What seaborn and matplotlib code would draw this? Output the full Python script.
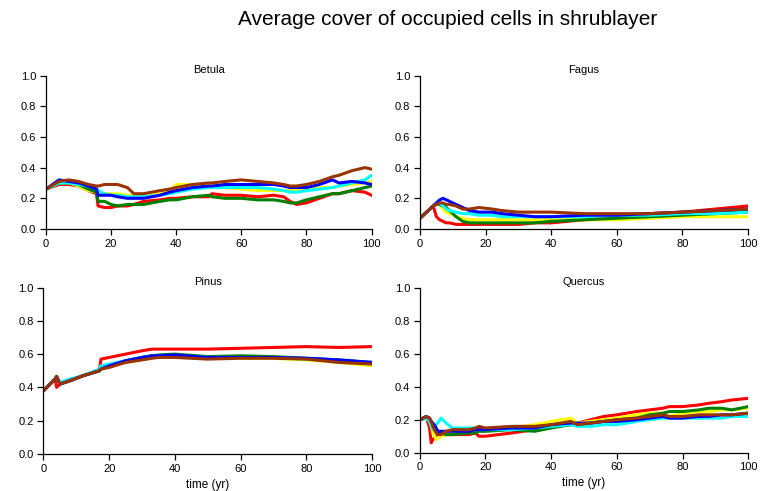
import numpy as np
import pandas as pd
import matplotlib
matplotlib.use("Agg")
import matplotlib.pyplot as plt
import seaborn as sns

sns.set_theme(style="white")
plt.rcParams['font.family'] = ['Liberation Sans', 'DejaVu Sans']
plt.rcParams['text.color'] = 'black'

TITLE = "Average cover of occupied cells in shrublayer"
SERIES = ["red", "yellow", "green", "cyan", "blue", "brown"]
COLORS = {"red": "#FF0000", "yellow": "#FFFF00", "green": "#008000",
          "cyan": "#00FFFF", "blue": "#0000FF", "brown": "#993300"}
X_TICKS = [0, 20, 40, 60, 80, 100]
Y_TICKS = [0.0, 0.2, 0.4, 0.6, 0.8, 1.0]

# ---- Betula ----
betula_t = [0, 4, 7, 10, 13, 15.5, 16, 18, 20, 22, 25, 27, 30, 35, 38, 40, 45, 50, 51, 55,
            60, 65, 70, 73, 75, 77, 80, 84, 88, 90, 94, 98, 100]
betula_brown = [0.26, 0.31, 0.32, 0.31, 0.29, 0.28, 0.28, 0.29, 0.29, 0.29, 0.27, 0.23, 0.23, 0.25, 0.26, 0.27, 0.29, 0.30, 0.30, 0.31,
                0.32, 0.31, 0.30, 0.29, 0.28, 0.28, 0.29, 0.31, 0.34, 0.35, 0.38, 0.40, 0.39]
betula_blue = [0.26, 0.32, 0.31, 0.30, 0.28, 0.26, 0.22, 0.22, 0.22, 0.21, 0.20, 0.20, 0.20, 0.22, 0.24, 0.25, 0.27, 0.28, 0.28, 0.29,
               0.29, 0.29, 0.29, 0.28, 0.27, 0.27, 0.27, 0.29, 0.32, 0.30, 0.31, 0.30, 0.29]
betula_cyan = [0.26, 0.30, 0.30, 0.29, 0.28, 0.27, 0.25, 0.23, 0.22, 0.22, 0.21, 0.21, 0.21, 0.22, 0.23, 0.24, 0.26, 0.27, 0.27, 0.27,
               0.27, 0.27, 0.26, 0.25, 0.24, 0.24, 0.25, 0.26, 0.27, 0.28, 0.30, 0.32, 0.35]
betula_yellow = [0.26, 0.30, 0.30, 0.28, 0.25, 0.24, 0.24, 0.23, 0.23, 0.23, 0.22, 0.22, 0.21, 0.23, 0.25, 0.29, 0.29, 0.28, 0.28, 0.27,
                 0.26, 0.25, 0.25, 0.25, 0.25, 0.25, 0.26, 0.27, 0.27, 0.28, 0.29, 0.30, 0.31]
betula_red = [0.26, 0.29, 0.29, 0.28, 0.25, 0.23, 0.15, 0.14, 0.14, 0.15, 0.15, 0.16, 0.18, 0.19, 0.20, 0.20, 0.21, 0.21, 0.23, 0.22,
              0.22, 0.21, 0.22, 0.21, 0.18, 0.16, 0.17, 0.20, 0.23, 0.23, 0.25, 0.24, 0.22]
betula_green = [0.26, 0.30, 0.30, 0.29, 0.26, 0.24, 0.18, 0.18, 0.16, 0.15, 0.16, 0.16, 0.16, 0.18, 0.19, 0.19, 0.21, 0.22, 0.21, 0.20,
                0.20, 0.19, 0.19, 0.18, 0.17, 0.17, 0.19, 0.21, 0.23, 0.23, 0.25, 0.27, 0.28]

# ---- Fagus ----
fagus_t = [0, 2, 4, 5, 6, 7, 8, 9, 11, 13, 15, 18, 22, 25, 30, 35, 40, 50, 60, 70, 80, 90, 100]
fagus_brown = [0.07, 0.11, 0.15, 0.16, 0.17, 0.17, 0.16, 0.16, 0.15, 0.13, 0.13, 0.14, 0.13, 0.12, 0.11, 0.11, 0.11, 0.10, 0.10, 0.10, 0.11, 0.12, 0.13]
fagus_blue = [0.07, 0.11, 0.15, 0.17, 0.19, 0.20, 0.19, 0.18, 0.16, 0.14, 0.12, 0.11, 0.11, 0.10, 0.09, 0.08, 0.08, 0.09, 0.09, 0.10, 0.11, 0.12, 0.13]
fagus_cyan = [0.07, 0.11, 0.15, 0.16, 0.17, 0.15, 0.13, 0.12, 0.11, 0.10, 0.10, 0.09, 0.09, 0.08, 0.08, 0.08, 0.08, 0.08, 0.09, 0.09, 0.10, 0.10, 0.11]
fagus_yellow = [0.07, 0.11, 0.15, 0.16, 0.16, 0.13, 0.11, 0.10, 0.08, 0.07, 0.06, 0.06, 0.06, 0.06, 0.06, 0.06, 0.06, 0.06, 0.06, 0.07, 0.08, 0.08, 0.08]
fagus_green = [0.07, 0.11, 0.15, 0.16, 0.16, 0.15, 0.14, 0.12, 0.08, 0.05, 0.04, 0.04, 0.04, 0.04, 0.04, 0.04, 0.05, 0.06, 0.07, 0.08, 0.09, 0.10, 0.11]
fagus_red = [0.07, 0.11, 0.15, 0.08, 0.06, 0.05, 0.04, 0.04, 0.03, 0.03, 0.03, 0.03, 0.03, 0.03, 0.03, 0.04, 0.04, 0.06, 0.08, 0.10, 0.11, 0.13, 0.15]

# ---- Pinus ----
pinus_t = [0, 3.5, 4, 5, 8, 12, 17, 17.5, 20, 25, 30, 33, 35, 40, 50, 60, 70, 80, 90, 100]
pinus_red = [0.38, 0.45, 0.40, 0.42, 0.44, 0.47, 0.50, 0.57, 0.58, 0.60, 0.62, 0.63, 0.63, 0.63, 0.63, 0.635, 0.64, 0.645, 0.64, 0.645]
pinus_blue = [0.38, 0.45, 0.465, 0.42, 0.44, 0.47, 0.50, 0.51, 0.53, 0.56, 0.58, 0.59, 0.59, 0.595, 0.58, 0.58, 0.58, 0.575, 0.565, 0.55]
pinus_cyan = [0.38, 0.45, 0.465, 0.43, 0.45, 0.47, 0.51, 0.53, 0.54, 0.56, 0.58, 0.585, 0.59, 0.59, 0.58, 0.58, 0.58, 0.57, 0.56, 0.545]
pinus_yellow = [0.38, 0.45, 0.47, 0.42, 0.44, 0.47, 0.50, 0.51, 0.53, 0.55, 0.57, 0.58, 0.585, 0.585, 0.575, 0.575, 0.575, 0.565, 0.55, 0.53]
pinus_green = [0.38, 0.45, 0.465, 0.42, 0.44, 0.47, 0.50, 0.51, 0.53, 0.56, 0.58, 0.59, 0.595, 0.60, 0.585, 0.59, 0.585, 0.575, 0.565, 0.55]
pinus_brown = [0.38, 0.45, 0.465, 0.42, 0.44, 0.47, 0.50, 0.51, 0.52, 0.55, 0.565, 0.575, 0.58, 0.58, 0.57, 0.575, 0.575, 0.57, 0.55, 0.54]

# ---- Quercus ----
quercus_t = [0, 2, 3, 3.5, 4, 5, 5.5, 6.5, 8, 10, 15, 17, 18, 20, 28, 35, 40, 46, 48, 52, 56, 60,
             66, 70, 74, 76, 80, 85, 88, 92, 95, 100]
quercus_brown = [0.20, 0.22, 0.21, 0.19, 0.16, 0.12, 0.11, 0.11, 0.13, 0.14, 0.14, 0.15, 0.16, 0.15, 0.16, 0.16, 0.17, 0.19, 0.17, 0.18, 0.19, 0.20,
                 0.21, 0.22, 0.23, 0.22, 0.22, 0.23, 0.23, 0.23, 0.23, 0.24]
quercus_red = [0.20, 0.22, 0.15, 0.06, 0.08, 0.10, 0.10, 0.11, 0.11, 0.11, 0.11, 0.12, 0.10, 0.10, 0.12, 0.14, 0.16, 0.17, 0.18, 0.20, 0.22, 0.23,
               0.25, 0.26, 0.27, 0.28, 0.28, 0.29, 0.30, 0.31, 0.32, 0.33]
quercus_yellow = [0.20, 0.21, 0.20, 0.16, 0.12, 0.08, 0.09, 0.10, 0.11, 0.12, 0.13, 0.13, 0.14, 0.14, 0.15, 0.17, 0.19, 0.21, 0.18, 0.19, 0.20, 0.21,
                  0.23, 0.24, 0.24, 0.22, 0.24, 0.25, 0.25, 0.26, 0.26, 0.27]
quercus_green = [0.20, 0.21, 0.20, 0.17, 0.15, 0.13, 0.12, 0.12, 0.11, 0.11, 0.12, 0.12, 0.13, 0.13, 0.14, 0.13, 0.15, 0.17, 0.17, 0.18, 0.19, 0.20,
                 0.21, 0.23, 0.24, 0.25, 0.25, 0.26, 0.27, 0.27, 0.26, 0.28]
quercus_cyan = [0.20, 0.21, 0.19, 0.16, 0.14, 0.17, 0.18, 0.21, 0.18, 0.15, 0.15, 0.15, 0.14, 0.14, 0.14, 0.15, 0.16, 0.17, 0.16, 0.16, 0.17, 0.17,
                0.19, 0.20, 0.21, 0.21, 0.21, 0.21, 0.21, 0.21, 0.22, 0.22]
quercus_blue = [0.20, 0.22, 0.21, 0.19, 0.18, 0.15, 0.13, 0.13, 0.13, 0.13, 0.13, 0.14, 0.14, 0.14, 0.15, 0.15, 0.17, 0.18, 0.18, 0.18, 0.19, 0.19,
                0.20, 0.21, 0.22, 0.21, 0.21, 0.22, 0.22, 0.23, 0.23, 0.24]

PANELS = [
    ("Betula", betula_t, {"red": betula_red, "yellow": betula_yellow, "green": betula_green,
                          "cyan": betula_cyan, "blue": betula_blue, "brown": betula_brown}),
    ("Fagus", fagus_t, {"red": fagus_red, "yellow": fagus_yellow, "green": fagus_green,
                        "cyan": fagus_cyan, "blue": fagus_blue, "brown": fagus_brown}),
    ("Pinus", pinus_t, {"red": pinus_red, "yellow": pinus_yellow, "green": pinus_green,
                        "cyan": pinus_cyan, "blue": pinus_blue, "brown": pinus_brown}),
    ("Quercus", quercus_t, {"red": quercus_red, "yellow": quercus_yellow, "green": quercus_green,
                            "cyan": quercus_cyan, "blue": quercus_blue, "brown": quercus_brown}),
]

POSITIONS = [
    [0.0603, 0.5336, 0.4266, 0.3126],
    [0.5505, 0.5336, 0.4299, 0.3126],
    [0.0570, 0.0754, 0.4305, 0.3390],
    [0.5501, 0.0780, 0.4305, 0.3354],
]

fig = plt.figure(figsize=(7.63, 4.91), dpi=100)
fig.text(0.5866, 0.960, TITLE, ha="center", va="center", fontsize=15, color="black")

for i, ((name, t, vals), pos) in enumerate(zip(PANELS, POSITIONS)):
    ax = fig.add_axes(pos)
    rows = []
    for s in SERIES:
        for tt, vv in zip(t, vals[s]):
            rows.append({"time": tt, "cover": vv, "series": s})
    df = pd.DataFrame(rows)
    sns.lineplot(data=df, x="time", y="cover", hue="series", hue_order=SERIES,
                 palette=COLORS, estimator=None, sort=False, linewidth=2.2,
                 legend=False, ax=ax)
    ax.set_xlim(0, 100)
    ax.set_ylim(0, 1.0)
    ax.set_xticks(X_TICKS)
    ax.set_yticks(Y_TICKS)
    ax.set_yticklabels([f"{v:.1f}" for v in Y_TICKS])
    ax.set_xticklabels([str(v) for v in X_TICKS])
    for side in ["top", "right"]:
        ax.spines[side].set_visible(False)
    for side in ["left", "bottom"]:
        ax.spines[side].set_color("black")
        ax.spines[side].set_linewidth(0.9)
    ax.tick_params(axis="both", direction="out", length=4, width=0.9,
                   labelsize=8, colors="black", bottom=True, left=True, pad=3)
    ax.set_title(name, fontsize=8, pad=2, color="black")
    ax.set_ylabel("")
    if i >= 2:
        ax.set_xlabel("time (yr)", fontsize=8.5, labelpad=3.5, color="black")
    else:
        ax.set_xlabel("")
    ax.set_facecolor("white")
    ax.grid(False)

fig.savefig("out.png", dpi=100, facecolor="white")
